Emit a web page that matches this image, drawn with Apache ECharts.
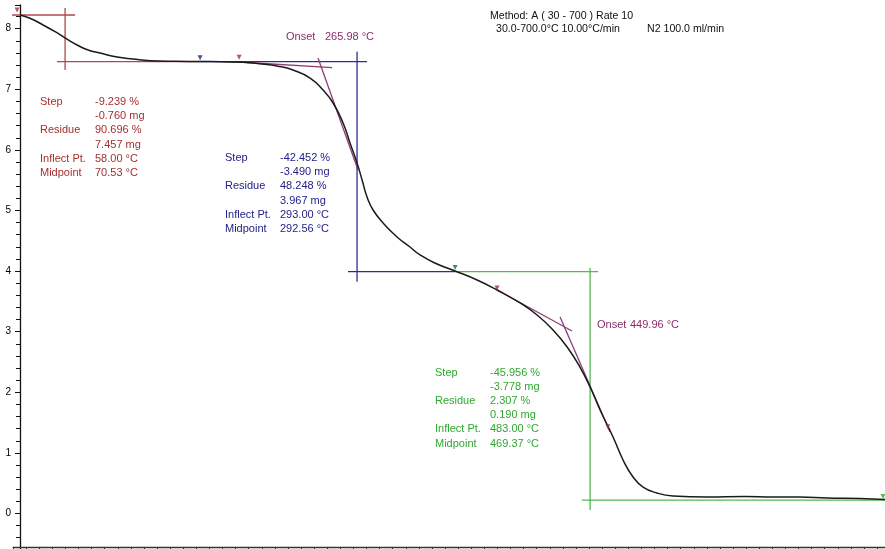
<!DOCTYPE html>
<html><head><meta charset="utf-8">
<script src="https://cdn.jsdelivr.net/npm/echarts@6/dist/echarts.min.js"></script>
<style>html,body{margin:0;padding:0;background:#fff}#c{width:885px;height:549px}</style>
</head><body><div id="c"></div>
<script>
// TGA curve: temperature (°C) and weight (mg)
const temperature = [21.5,29.6,40.2,49.9,58.0,67.7,76.6,86.3,100.1,113.0,126.8,147.0,167.3,183.5,202.1,217.5,229.6,242.6,256.4,266.9,275.0,283.1,288.7,294.4,298.5,302.5,307.4,315.5,326.8,337.3,345.4,359.2,373.8,391.6,407.8,426.4,440.2,453.1,464.5,474.9,483.1,491.2,501.7,509.8,517.9,526.0,537.3,550.3,577.8,608.6,631.3,653.1,675.0,701.7,722.0];
const weight = [8.226,8.172,8.061,7.950,7.847,7.731,7.649,7.599,7.533,7.500,7.472,7.462,7.459,7.454,7.446,7.417,7.384,7.318,7.186,6.988,6.774,6.444,6.114,5.784,5.503,5.223,5.008,4.794,4.563,4.398,4.266,4.117,4.002,3.853,3.688,3.474,3.276,3.028,2.748,2.417,2.087,1.708,1.262,0.883,0.602,0.437,0.338,0.289,0.272,0.281,0.272,0.272,0.256,0.248,0.231];

// y tick labels
const yTickLabels = ['0','1','2','3','4','5','6','7','8'];

// step analysis construction lines [[T1,w1],[T2,w2]]
const step1Lines = [[[11.0,8.226],[66.1,8.226]],[[58.0,8.342],[58.0,7.318]],[[51.5,7.457],[167.3,7.457]]];
const step2Lines = [[[167.3,7.457],[302.5,7.457]],[[294.4,7.620],[294.4,3.825]],[[287.1,3.990],[373.8,3.990]]];
const step3Lines = [[[373.8,3.990],[489.6,3.990]],[[483.1,4.051],[483.1,0.058]],[[476.6,0.222],[722.0,0.222]]];
const onsetLines = [[[202.1,7.446],[274.2,7.356]],[[262.8,7.517],[295.2,5.668]],[[407.8,3.688],[468.5,3.012]],[[458.8,3.243],[499.3,1.345]]];
const markers = [[19.1,8.31],[167.3,7.52],[198.9,7.53],[373.8,4.06],[407.8,3.72],[497.5,1.43],[720.3,0.28]];

// annotation texts
const step1Names = ['Step','','Residue','','Inflect Pt.','Midpoint'];
const step1Values = ['-9.239 %','-0.760 mg','90.696 %','7.457 mg','58.00 \u00b0C','70.53 \u00b0C'];
const step2Names = ['Step','','Residue','','Inflect Pt.','Midpoint'];
const step2Values = ['-42.452 %','-3.490 mg','48.248 %','3.967 mg','293.00 \u00b0C','292.56 \u00b0C'];
const step3Names = ['Step','','Residue','','Inflect Pt.','Midpoint'];
const step3Values = ['-45.956 %','-3.778 mg','2.307 %','0.190 mg','483.00 \u00b0C','469.37 \u00b0C'];
const onset1 = ['Onset','265.98 \u00b0C'];
const onset2 = ['Onset','449.96 \u00b0C'];
const header = ['Method: A ( 30 - 700 ) Rate 10','30.0-700.0\u00b0C 10.00\u00b0C/min','N2 100.0 ml/min'];

const FONT = "'Liberation Sans', Arial, sans-serif";
const C1 = '#a3302f', C2 = '#22228a', C3 = '#2fa82f', CO = '#8a2d6a';
const L1 = '#b04848', L2 = '#2c2c9c', L3 = '#52b852', LO = '#8e3c78';

function segSeries(list, color) {
  return list.map(seg => ({
    type: 'line', data: seg, symbol: 'none', silent: true, clip: false,
    lineStyle: {color: color, width: 1.3}, z: 1, animation: false
  }));
}

function block(names, values, x1, x2, y0, dy, color) {
  const out = [];
  names.forEach((n, i) => {
    if (n) out.push({type:'text', x:x1, y:y0 + i*dy, style:{text:n, fill:color, font:'11px ' + FONT, verticalAlign:'middle'}});
    out.push({type:'text', x:x2, y:y0 + i*dy, style:{text:values[i], fill:color, font:'11px ' + FONT, verticalAlign:'middle'}});
  });
  return out;
}

const graphics = [].concat(
  block(step1Names, step1Values, 40, 95, 102, 14.2, C1),
  block(step2Names, step2Values, 225, 280, 158, 14.2, C2),
  block(step3Names, step3Values, 435, 490, 373, 14.1, C3),
  [
    {type:'text', x:286, y:37, style:{text:onset1[0], fill:CO, font:'11px ' + FONT, verticalAlign:'middle'}},
    {type:'text', x:325, y:37, style:{text:onset1[1], fill:CO, font:'11px ' + FONT, verticalAlign:'middle'}},
    {type:'text', x:597, y:325, style:{text:onset2[0], fill:CO, font:'11px ' + FONT, verticalAlign:'middle'}},
    {type:'text', x:630, y:325, style:{text:onset2[1], fill:CO, font:'11px ' + FONT, verticalAlign:'middle'}},
    {type:'text', x:490, y:16, style:{text:header[0], fill:'#111', font:'10.6px ' + FONT, verticalAlign:'middle'}},
    {type:'text', x:496, y:29, style:{text:header[1], fill:'#111', font:'10.6px ' + FONT, verticalAlign:'middle'}},
    {type:'text', x:647, y:29, style:{text:header[2], fill:'#111', font:'10.6px ' + FONT, verticalAlign:'middle'}}
  ]
);

const markerColors = [C1, C2, C1, '#1f6f4f', CO, CO, C3];

const chart = echarts.init(document.getElementById('c'), null, {renderer:'canvas'});
chart.setOption({
  animation: false,
  backgroundColor: '#fff',
  grid: {left: 13.1, right: 0, top: 5, bottom: -25.1, containLabel: false, outerBoundsMode: 'none'},
  xAxis: {
    type: 'value', min: 15.9, max: 721.9, interval: 10.6, offset: -27.1,
    axisLine: {show: true, onZero: false, lineStyle: {color: '#333', width: 1.3}},
    axisTick: {show: true, length: 4, lineStyle: {color: '#333'}},
    axisLabel: {show: false}, splitLine: {show: false}
  },
  yAxis: {
    type: 'value', min: -1, max: 8.391, interval: 1, offset: -6.9,
    axisLine: {show: true, onZero: false, lineStyle: {color: '#111', width: 1.3}},
    axisTick: {show: true, length: 5, lineStyle: {color: '#111'}},
    minorTick: {show: true, splitNumber: 5, length: 4, lineStyle: {color: '#111'}},
    splitLine: {show: false}, minorSplitLine: {show: false},
    axisLabel: {margin: 9, fontSize: 10, color: '#000', fontFamily: FONT, showMaxLabel: false,
      formatter: v => (Number.isInteger(v) && v >= 0) ? yTickLabels[v] : ''}
  },
  graphic: graphics,
  series: [].concat(
    segSeries(step1Lines, L1),
    segSeries(step2Lines, L2),
    segSeries(step3Lines, L3),
    segSeries(onsetLines, LO),
    [{
      type: 'line', data: temperature.map((t, i) => [t, weight[i]]),
      symbol: 'none', smooth: 0.5, clip: false,
      lineStyle: {color: '#1a1a1a', width: 1.5}, z: 3
    },
    {
      type: 'scatter', data: markers.map((p, i) => ({value: p, itemStyle: {color: markerColors[i]}})),
      symbol: 'triangle', symbolRotate: 180, symbolSize: 5, z: 4, silent: true
    }]
  )
});
</script></body></html>
